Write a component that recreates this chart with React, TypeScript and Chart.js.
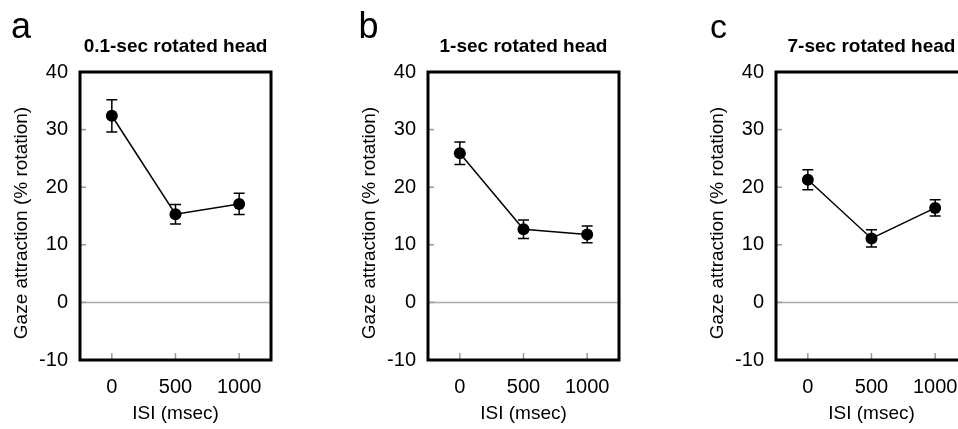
import React, { useEffect, useRef } from "react";
import { Chart, registerables } from "chart.js";

Chart.register(...registerables);

// ---- data ----
const isiValues = [0, 500, 1000];
const yTickValues = [-10, 0, 10, 20, 30, 40];
const panelLetters = ["a", "b", "c"];
const panelTitles = ["0.1-sec rotated head", "1-sec rotated head", "7-sec rotated head"];
const meanA = [32.4, 15.3, 17.1];
const errA = [2.8, 1.7, 1.85];
const meanB = [25.9, 12.7, 11.8];
const errB = [1.95, 1.6, 1.45];
const meanC = [21.3, 11.1, 16.4];
const errC = [1.75, 1.5, 1.4];
const yTitle = "Gaze attraction (% rotation)";
const xTitle = "ISI (msec)";

const panelMeans = [meanA, meanB, meanC];
const panelErrs = [errA, errB, errC];

// ---- layout ----
const FONT = '"Liberation Sans", Arial, Helvetica, sans-serif';
const PANEL_W = 348;
const PANEL_H = 429;
const panelLefts = [0, 348, 696];
const letterX = [11, 10.5, 14];

function makePlugin(idx: number) {
  return {
    id: "decor" + idx,
    beforeDatasetsDraw(chart: any) {
      const { ctx, chartArea: a, scales } = chart;
      const xs = scales.x;
      const ys = scales.y;
      ctx.save();
      // zero line
      ctx.strokeStyle = "#aaaaaa";
      ctx.lineWidth = 1.5;
      const y0 = ys.getPixelForValue(0);
      ctx.beginPath();
      ctx.moveTo(a.left, y0);
      ctx.lineTo(a.right, y0);
      ctx.stroke();
      // inner tick marks
      ctx.strokeStyle = "#999999";
      ctx.lineWidth = 1.5;
      yTickValues.forEach((v) => {
        const py = ys.getPixelForValue(v);
        ctx.beginPath();
        ctx.moveTo(a.left, py);
        ctx.lineTo(a.left + 6, py);
        ctx.stroke();
      });
      isiValues.forEach((v) => {
        const px = xs.getPixelForValue(v);
        ctx.beginPath();
        ctx.moveTo(px, a.bottom);
        ctx.lineTo(px, a.bottom - 7);
        ctx.stroke();
      });
      // error bars
      const means = panelMeans[idx];
      const errs = panelErrs[idx];
      ctx.strokeStyle = "#000";
      ctx.lineWidth = 1.5;
      isiValues.forEach((v, i) => {
        const px = xs.getPixelForValue(v);
        const pt = ys.getPixelForValue(means[i] + errs[i]);
        const pb = ys.getPixelForValue(means[i] - errs[i]);
        ctx.beginPath();
        ctx.moveTo(px, pt);
        ctx.lineTo(px, pb);
        ctx.moveTo(px - 5.5, pt);
        ctx.lineTo(px + 5.5, pt);
        ctx.moveTo(px - 5.5, pb);
        ctx.lineTo(px + 5.5, pb);
        ctx.stroke();
      });
      ctx.restore();
    },
    afterDraw(chart: any) {
      const { ctx, chartArea: a } = chart;
      ctx.save();
      // frame
      ctx.strokeStyle = "#000";
      ctx.lineWidth = 3;
      ctx.strokeRect(a.left, a.top, a.right - a.left, a.bottom - a.top);
      const cx = (a.left + a.right) / 2;
      ctx.fillStyle = "#000";
      // panel letter
      ctx.font = `${idx === 2 ? 34 : 36}px ${FONT}`;
      ctx.textAlign = "left";
      ctx.textBaseline = "alphabetic";
      ctx.fillText(panelLetters[idx], letterX[idx], 38);
      // title
      ctx.font = `bold 19px ${FONT}`;
      ctx.textAlign = "center";
      ctx.fillText(panelTitles[idx], cx, 52);
      // x title
      ctx.font = `19px ${FONT}`;
      ctx.textBaseline = "middle";
      ctx.fillText(xTitle, cx, 414);
      // y title
      ctx.translate(22, 223);
      ctx.rotate(-Math.PI / 2);
      ctx.fillText(yTitle, 0, 0);
      ctx.restore();
    },
  };
}

function Panel({ idx }: { idx: number }) {
  const ref = useRef<HTMLCanvasElement | null>(null);
  useEffect(() => {
    if (!ref.current) return;
    const means = panelMeans[idx];
    const chart = new Chart(ref.current, {
      type: "line",
      data: {
        datasets: [
          {
            data: isiValues.map((x, i) => ({ x, y: means[i] })),
            borderColor: "#000",
            borderWidth: 1.5,
            pointRadius: 6,
            pointBackgroundColor: "#000",
            pointBorderWidth: 0,
            fill: false,
            tension: 0,
          },
        ],
      },
      options: {
        responsive: false,
        animation: false,
        events: [],
        layout: { padding: { top: 72, right: 77, left: 0, bottom: 0 } },
        plugins: { legend: { display: false }, tooltip: { enabled: false }, title: { display: false } },
        scales: {
          x: {
            type: "linear",
            min: -250,
            max: 1250,
            grid: { display: false, drawTicks: false },
            border: { display: false },
            afterBuildTicks: (s: any) => {
              s.ticks = isiValues.map((v) => ({ value: v }));
            },
            afterFit: (s: any) => {
              s.height = 69;
            },
            ticks: {
              autoSkip: false,
              maxRotation: 0,
              padding: 15,
              color: "#000",
              font: { family: FONT, size: 20 },
              callback: (v: any) => String(v),
            },
          },
          y: {
            type: "linear",
            min: -10,
            max: 40,
            grid: { display: false, drawTicks: false },
            border: { display: false },
            afterBuildTicks: (s: any) => {
              s.ticks = yTickValues.map((v) => ({ value: v }));
            },
            afterFit: (s: any) => {
              s.width = 80;
            },
            ticks: {
              padding: 12,
              color: "#000",
              font: { family: FONT, size: 20 },
              callback: (v: any) => String(v),
            },
          },
        },
      } as any,
      plugins: [makePlugin(idx)],
    });
    return () => chart.destroy();
  }, [idx]);
  return (
    <canvas
      ref={ref}
      width={PANEL_W}
      height={PANEL_H}
      style={{ position: "absolute", left: panelLefts[idx], top: 0, width: PANEL_W, height: PANEL_H }}
    />
  );
}

export default function App() {
  return (
    <div
      style={{
        position: "fixed",
        left: 0,
        top: 0,
        width: 958,
        height: 429,
        overflow: "hidden",
        background: "#fff",
      }}
    >
      {panelLetters.map((_, i) => (
        <Panel key={i} idx={i} />
      ))}
    </div>
  );
}
